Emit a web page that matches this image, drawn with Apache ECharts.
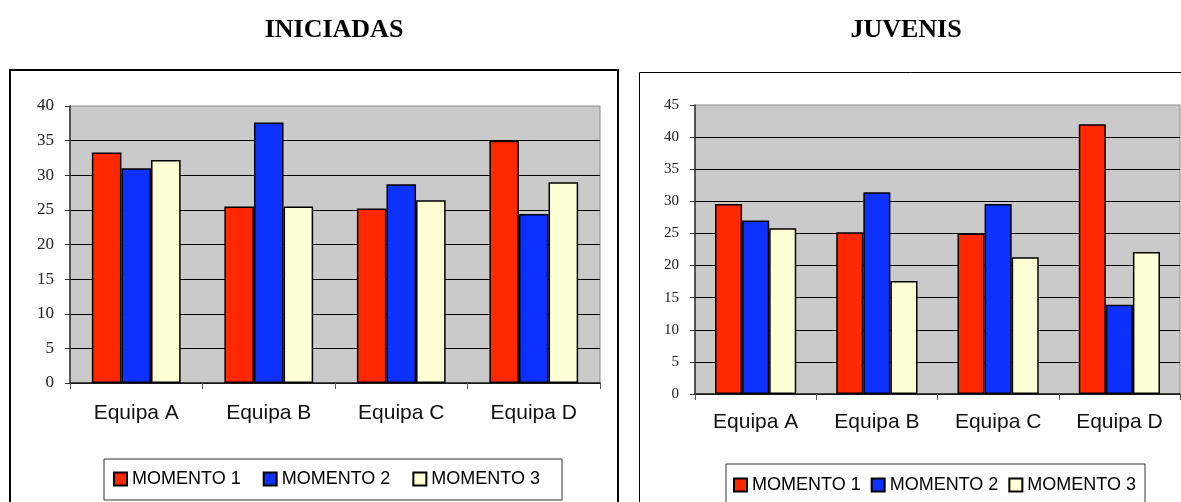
<!DOCTYPE html>
<html>
<head>
<meta charset="utf-8">
<script src="https://cdn.jsdelivr.net/npm/echarts@6/dist/echarts.min.js"></script>
<style>
  html, body { margin: 0; padding: 0; background: #fff; }
  #main { width: 1181px; height: 502px; }
</style>
</head>
<body>
<div id="main"></div>
<script>
// categorias e valores
var equipas = ['Equipa A', 'Equipa B', 'Equipa C', 'Equipa D'];
var momentos = ['MOMENTO 1', 'MOMENTO 2', 'MOMENTO 3'];

var iniciadasM1 = [33.3, 25.5, 25.2, 35.0];
var iniciadasM2 = [31.0, 37.6, 28.7, 24.4];
var iniciadasM3 = [32.2, 25.5, 26.4, 29.0];

var juvenisM1 = [29.6, 25.2, 25.0, 42.0];
var juvenisM2 = [27.0, 31.4, 29.6, 13.9];
var juvenisM3 = [25.8, 17.6, 21.3, 22.1];

var iniciadasTicks = { min: 0, max: 40, step: 5 };
var juvenisTicks = { min: 0, max: 45, step: 5 };

var cores = ['#FF2800', '#0D32FF', '#FFFFD6'];

var chart = echarts.init(document.getElementById('main'));

function barra(nome, dados, cor, idx) {
    return {
        name: nome,
        type: 'bar',
        xAxisIndex: idx,
        yAxisIndex: idx,
        data: dados,
        barGap: '0%',
        barCategoryGap: '33%',
        itemStyle: {
            color: cor,
            borderColor: '#000',
            borderWidth: 1.5
        }
    };
}

function eixoX(idx, margem) {
    return {
        type: 'category',
        gridIndex: idx,
        data: equipas,
        axisLine: { lineStyle: { color: '#222', width: 1.5 } },
        axisTick: { show: true, length: 6, lineStyle: { color: '#555' } },
        axisLabel: {
            margin: margem,
            color: '#111',
            fontFamily: 'Liberation Sans',
            fontSize: 21
        }
    };
}

function eixoY(idx, t, tam) {
    return {
        type: 'value',
        gridIndex: idx,
        min: t.min,
        max: t.max,
        interval: t.step,
        axisLine: { show: true, lineStyle: { color: '#333', width: 1.5 } },
        axisTick: { show: true, length: 5, lineStyle: { color: '#333' } },
        axisLabel: {
            margin: 16,
            color: '#222',
            fontFamily: 'Liberation Serif',
            fontSize: tam
        },
        splitLine: { show: true, showMaxLine: false, lineStyle: { color: '#000', width: 1 } }
    };
}

function legenda(left, top, pad, gap, tam) {
    return {
        left: left,
        top: top,
        orient: 'horizontal',
        data: momentos,
        icon: 'rect',
        itemWidth: 13,
        itemHeight: 13,
        itemGap: gap,
        padding: pad,
        borderColor: '#333',
        borderWidth: 1,
        backgroundColor: '#fff',
        textStyle: {
            color: '#000',
            fontFamily: 'Liberation Sans',
            fontSize: tam
        }
    };
}

var option = {
    animation: false,
    backgroundColor: '#fff',
    graphic: [
        {
            type: 'rect',
            shape: { x: 10, y: 70, width: 608, height: 450 },
            style: { fill: 'none', stroke: '#000', lineWidth: 2 },
            z: -1
        },
        {
            type: 'rect',
            shape: { x: 639.5, y: 72.5, width: 580, height: 450 },
            style: { fill: 'none', stroke: '#000', lineWidth: 1 },
            z: -1
        },
        {
            type: 'text',
            x: 334, y: 30,
            style: {
                text: 'INICIADAS',
                textAlign: 'center', textVerticalAlign: 'middle',
                fontFamily: 'Liberation Serif', fontWeight: 'bold', fontSize: 26, fill: '#000'
            }
        },
        {
            type: 'text',
            x: 906, y: 30,
            style: {
                text: 'JUVENIS',
                textAlign: 'center', textVerticalAlign: 'middle',
                fontFamily: 'Liberation Serif', fontWeight: 'bold', fontSize: 26, fill: '#000'
            }
        }
    ],
    legend: [
        legenda(104, 459, [11, 22, 12, 9], 22, 18),
        legenda(726, 464, [12, 9, 30, 7], 10, 18)
    ],
    grid: [
        { left: 70, top: 106, width: 530, height: 277, show: true, backgroundColor: '#CACACA', borderColor: '#8a8a8a', borderWidth: 1 },
        { left: 695, top: 105, width: 485, height: 289, show: true, backgroundColor: '#CACACA', borderColor: '#8a8a8a', borderWidth: 1 }
    ],
    xAxis: [eixoX(0, 20), eixoX(1, 18)],
    yAxis: [eixoY(0, iniciadasTicks, 17), eixoY(1, juvenisTicks, 15)],
    series: [
        barra(momentos[0], iniciadasM1, cores[0], 0),
        barra(momentos[1], iniciadasM2, cores[1], 0),
        barra(momentos[2], iniciadasM3, cores[2], 0),
        barra(momentos[0], juvenisM1, cores[0], 1),
        barra(momentos[1], juvenisM2, cores[1], 1),
        barra(momentos[2], juvenisM3, cores[2], 1)
    ]
};

chart.clear();
chart.setOption(option);
</script>
</body>
</html>
